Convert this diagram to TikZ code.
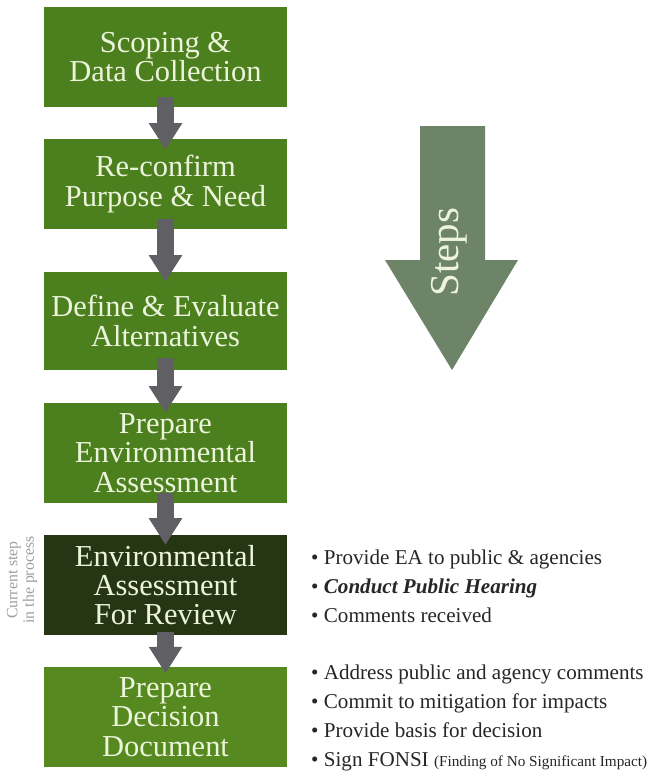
\documentclass[tikz,border=0pt]{standalone}
\usepackage{fontspec}
\setmainfont{Liberation Serif}
\usetikzlibrary{arrows.meta}
\definecolor{boxgreen}{RGB}{76,128,30}
\definecolor{boxdark}{RGB}{38,54,20}
\definecolor{boxlight}{RGB}{86,138,32}
\definecolor{stepgray}{RGB}{110,132,105}
\definecolor{arrowgray}{RGB}{96,96,100}
\definecolor{boxtext}{RGB}{236,244,220}
\definecolor{notegray}{RGB}{135,135,135}

\begin{document}
\begin{tikzpicture}[x=0.03cm, y=-0.03cm,
  stage/.style={fill=boxgreen, text=boxtext, minimum width=7.29cm, minimum height=3cm,
    inner sep=0pt, align=center, font=\fontsize{26}{25}\selectfont},
  down/.style={draw=arrowgray, line width=0.5cm, -{Triangle[width=0.95cm, length=0.8cm]}},
  notes/.style={anchor=west, align=left, inner sep=0pt, text=black!85,
    font=\fontsize{18}{24.8}\selectfont}]
\useasboundingbox (0,0) rectangle (668,773);
\fill[white] (0,0) rectangle (668,773);
\node[stage] (s1) at (165.5,57) {Scoping \&\\Data Collection};
\node[stage, minimum height=2.7cm] (s2) at (165.5,184) {Re-confirm\\Purpose \& Need};
\node[stage, minimum height=2.94cm] (s3) at (165.5,321) {Define \& Evaluate\\Alternatives};
\node[stage] (s4) at (165.5,453) {Prepare\\Environmental\\Assessment};
\node[stage, fill=boxdark] (s5) at (165.5,585) {Environmental\\Assessment\\For Review};
\node[stage, fill=boxlight] (s6) at (165.5,717) {Prepare\\Decision\\Document};
\draw[down] ([yshift=0.3cm]s1.south) -- ([yshift=-0.33cm]s2.north);
\draw[down] ([yshift=0.3cm]s2.south) -- ([yshift=-0.3cm]s3.north);
\draw[down] ([yshift=0.36cm]s3.south) -- ([yshift=-0.3cm]s4.north);
\draw[down] ([yshift=0.3cm]s4.south) -- ([yshift=-0.3cm]s5.north);
\draw[down] ([yshift=0.1cm]s5.south) -- ([yshift=-0.2cm]s6.north);
\fill[stepgray] (420,126) -- (485,126) -- (485,260) -- (518,260) -- (452,370)
  -- (385,260) -- (420,260) -- cycle;
\node[rotate=90, text=boxtext, font=\fontsize{35}{35}\selectfont] (steps) at (449,252) {Steps};
\node[rotate=90, text=notegray!80, align=center, font=\fontsize{13.5}{14}\selectfont] (current) at (22,580)
  {Current step\\in the process};
\node[notes] (n5) at (311,586) {\textbullet\ Provide EA to public \& agencies\\
  \textbullet\ \textbf{\textit{Conduct Public Hearing}}\\
  \textbullet\ Comments received};
\node[notes] (n6) at (311,718) {\textbullet\ Address public and agency comments\\
  \textbullet\ Commit to mitigation for impacts\\
  \textbullet\ Provide basis for decision\\
  \textbullet\ Sign FONSI\ {\fontsize{13}{13}\selectfont (Finding of No Significant Impact)}};
\end{tikzpicture}
\end{document}
